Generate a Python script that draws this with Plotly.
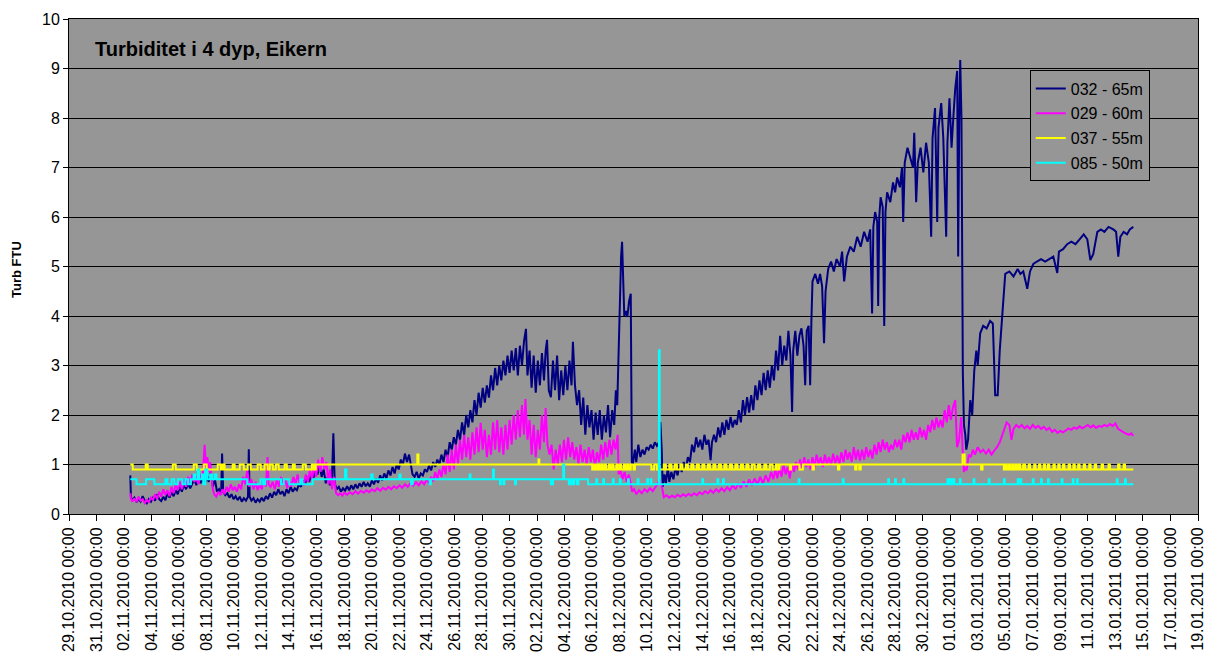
import pandas as pd
import plotly.graph_objects as go

# time in days since 29.10.2010 00:00, value in FTU
BASE_DATE = "2010-10-29"

navy_pts = [
    (4.45, 0.78), (4.5, 0.34), (4.6, 0.28), (4.75, 0.33), (4.9, 0.24), (5.05, 0.3), (5.2, 0.25), (5.35, 0.36),
    (5.5, 0.27), (5.65, 0.22), (5.8, 0.3), (5.95, 0.25), (6.1, 0.33), (6.25, 0.27), (6.4, 0.4), (6.55, 0.3),
    (6.7, 0.26), (6.85, 0.35), (7.0, 0.28), (7.15, 0.42), (7.3, 0.33), (7.45, 0.44), (7.6, 0.36), (7.75, 0.48),
    (7.9, 0.4), (8.05, 0.55), (8.2, 0.45), (8.35, 0.6), (8.5, 0.5), (8.65, 0.62), (8.8, 0.52), (8.95, 0.6),
    (9.1, 0.7), (9.25, 0.58), (9.4, 0.75), (9.55, 0.62), (9.7, 0.72), (9.85, 0.6), (10.0, 0.78), (10.15, 0.65),
    (10.3, 0.85), (10.45, 0.55), (10.6, 0.7), (10.75, 0.45), (10.9, 0.5), (11.05, 0.4), (11.12, 1.22), (11.2, 0.45),
    (11.35, 0.38), (11.5, 0.42), (11.65, 0.33), (11.8, 0.4), (11.95, 0.3), (12.1, 0.36), (12.25, 0.28), (12.4, 0.35),
    (12.55, 0.25), (12.7, 0.32), (12.85, 0.27), (13.0, 0.35), (13.06, 1.31), (13.12, 0.35), (13.25, 0.27), (13.4, 0.32),
    (13.55, 0.23), (13.7, 0.3), (13.85, 0.25), (14.0, 0.33), (14.15, 0.26), (14.3, 0.36), (14.45, 0.3), (14.6, 0.42),
    (14.75, 0.33), (14.9, 0.45), (15.05, 0.38), (15.2, 0.5), (15.35, 0.4), (15.5, 0.46), (15.65, 0.36), (15.8, 0.5),
    (15.95, 0.42), (16.1, 0.55), (16.25, 0.45), (16.4, 0.52), (16.55, 0.48), (16.7, 0.6), (16.85, 0.55), (17.0, 0.68),
    (17.15, 0.6), (17.3, 0.75), (17.45, 0.65), (17.6, 0.82), (17.75, 0.72), (17.9, 0.9), (18.05, 0.8), (18.2, 0.98),
    (18.35, 0.75), (18.5, 0.9), (18.65, 0.62), (18.8, 0.75), (18.95, 0.58), (19.1, 0.7), (19.2, 1.63), (19.3, 0.62),
    (19.45, 0.5), (19.6, 0.55), (19.75, 0.45), (19.9, 0.52), (20.05, 0.47), (20.2, 0.56), (20.35, 0.48), (20.5, 0.58),
    (20.65, 0.5), (20.8, 0.6), (20.95, 0.52), (21.1, 0.62), (21.25, 0.55), (21.4, 0.65), (21.55, 0.56), (21.7, 0.62),
    (21.85, 0.55), (22.0, 0.68), (22.15, 0.6), (22.3, 0.72), (22.45, 0.63), (22.6, 0.78), (22.75, 0.68), (22.9, 0.82),
    (23.05, 0.72), (23.2, 0.88), (23.35, 0.78), (23.5, 0.95), (23.65, 0.82), (23.8, 1.0), (23.95, 0.9), (24.1, 1.1),
    (24.25, 1.0), (24.4, 1.22), (24.55, 1.05), (24.7, 1.2), (24.85, 1.0), (24.95, 0.8), (25.1, 0.75), (25.25, 0.85),
    (25.4, 0.72), (25.55, 0.82), (25.7, 0.78), (25.85, 0.9), (26.0, 0.85), (26.15, 0.98), (26.3, 0.88), (26.45, 1.05),
    (26.6, 0.95), (26.75, 1.1), (26.9, 1.0), (27.05, 1.2), (27.2, 1.05), (27.35, 1.3), (27.5, 1.15), (27.65, 1.45),
    (27.8, 1.3), (27.95, 1.55), (28.1, 1.4), (28.25, 1.7), (28.4, 1.5), (28.55, 1.85), (28.7, 1.6), (28.85, 2.0),
    (29.0, 1.75), (29.15, 2.1), (29.3, 1.85), (29.45, 2.3), (29.6, 2.0), (29.75, 2.45), (29.9, 2.15), (30.05, 2.55),
    (30.2, 2.25), (30.35, 2.6), (30.5, 2.35), (30.65, 2.8), (30.8, 2.5), (30.95, 2.95), (31.1, 2.6), (31.25, 3.0),
    (31.4, 2.7), (31.55, 3.1), (31.7, 2.8), (31.85, 3.2), (32.0, 2.85), (32.15, 3.3), (32.3, 2.9), (32.45, 3.35),
    (32.6, 2.8), (32.75, 3.4), (32.9, 3.0), (33.05, 3.5), (33.19, 3.74), (33.3, 2.8), (33.45, 3.3), (33.6, 2.55),
    (33.75, 3.2), (33.9, 2.45), (34.05, 3.1), (34.2, 2.6), (34.35, 3.25), (34.5, 2.7), (34.62, 3.3), (34.72, 3.52),
    (34.85, 2.5), (35.0, 2.36), (35.15, 3.1), (35.3, 2.5), (35.45, 3.2), (35.6, 2.3), (35.75, 2.9), (35.9, 2.4),
    (36.05, 3.0), (36.2, 2.5), (36.35, 3.1), (36.5, 2.6), (36.6, 3.48), (36.75, 2.6), (36.9, 2.2), (37.05, 2.5),
    (37.2, 1.8), (37.35, 2.35), (37.5, 1.6), (37.65, 2.2), (37.8, 1.75), (37.95, 2.1), (38.1, 1.5), (38.25, 2.05),
    (38.4, 1.6), (38.55, 2.1), (38.7, 1.5), (38.85, 2.0), (39.0, 1.65), (39.15, 2.2), (39.3, 1.55), (39.45, 2.1),
    (39.6, 1.8), (39.72, 2.5), (39.82, 2.2), (39.9, 3.1), (40.0, 4.5), (40.1, 5.2), (40.17, 5.5), (40.25, 4.9),
    (40.33, 4.0), (40.45, 4.1), (40.55, 3.98), (40.68, 4.3), (40.8, 4.45), (40.88, 1.05), (40.95, 1.0), (41.1, 1.3),
    (41.2, 1.05), (41.35, 1.4), (41.5, 1.15), (41.65, 1.3), (41.8, 1.2), (41.95, 1.35), (42.1, 1.3), (42.25, 1.4),
    (42.4, 1.32), (42.55, 1.45), (42.7, 1.38), (42.85, 1.45), (42.95, 1.86), (43.05, 1.3), (43.12, 0.55), (43.25, 0.8),
    (43.35, 0.62), (43.5, 0.95), (43.6, 0.65), (43.75, 0.85), (43.9, 0.7), (44.05, 0.95), (44.2, 0.78), (44.35, 1.0),
    (44.5, 0.85), (44.65, 1.05), (44.8, 0.92), (44.95, 1.15), (45.1, 1.05), (45.25, 1.4), (45.4, 1.25), (45.55, 1.55),
    (45.7, 1.35), (45.85, 1.5), (46.0, 1.3), (46.15, 1.6), (46.3, 1.4), (46.45, 1.5), (46.6, 1.09), (46.7, 1.45),
    (46.85, 1.6), (47.0, 1.45), (47.15, 1.75), (47.3, 1.55), (47.45, 1.85), (47.6, 1.6), (47.75, 1.9), (47.9, 1.7),
    (48.05, 1.96), (48.2, 1.75), (48.35, 1.9), (48.5, 1.8), (48.65, 2.1), (48.8, 1.85), (48.95, 2.3), (49.1, 2.0),
    (49.25, 2.36), (49.4, 2.05), (49.55, 2.4), (49.7, 2.1), (49.85, 2.6), (50.0, 2.3), (50.15, 2.7), (50.3, 2.4),
    (50.45, 2.85), (50.6, 2.5), (50.75, 2.9), (50.9, 2.55), (51.05, 3.0), (51.2, 2.7), (51.35, 3.3), (51.5, 2.9),
    (51.65, 3.6), (51.8, 3.0), (51.95, 3.4), (52.1, 3.1), (52.25, 3.7), (52.4, 3.2), (52.52, 2.06), (52.6, 3.3),
    (52.75, 3.7), (52.9, 3.2), (53.05, 3.6), (53.2, 3.75), (53.35, 3.4), (53.47, 2.6), (53.58, 3.7), (53.72, 3.8),
    (53.83, 2.6), (53.92, 3.9), (54.0, 4.7), (54.2, 4.85), (54.4, 4.65), (54.55, 4.85), (54.7, 4.6), (54.84, 3.45),
    (54.95, 4.5), (55.14, 4.95), (55.35, 5.1), (55.55, 4.9), (55.75, 5.15), (56.0, 5.0), (56.15, 5.3), (56.3, 4.7),
    (56.5, 5.2), (56.75, 5.4), (57.0, 5.3), (57.25, 5.6), (57.5, 5.4), (57.75, 5.7), (58.0, 5.5), (58.19, 5.75),
    (58.33, 4.05), (58.42, 5.8), (58.55, 6.1), (58.7, 5.9), (58.77, 4.2), (58.85, 6.0), (58.95, 6.4), (59.1, 6.2),
    (59.21, 3.8), (59.3, 6.1), (59.42, 6.5), (59.65, 6.3), (59.85, 6.7), (60.0, 6.5), (60.15, 6.8), (60.35, 6.6),
    (60.5, 7.0), (60.59, 5.9), (60.7, 7.1), (60.9, 7.4), (61.1, 7.2), (61.3, 7.0), (61.39, 7.7), (61.53, 6.3),
    (61.65, 7.1), (61.85, 7.4), (62.05, 6.9), (62.25, 7.5), (62.45, 7.1), (62.62, 5.6), (62.72, 7.6), (62.9, 8.2),
    (63.06, 5.9), (63.15, 7.8), (63.35, 8.3), (63.5, 7.6), (63.71, 5.6), (63.8, 7.5), (63.95, 8.4), (64.1, 7.4),
    (64.25, 8.1), (64.37, 8.6), (64.51, 8.95), (64.58, 5.2), (64.66, 8.0), (64.73, 9.17), (64.82, 8.0), (64.92, 2.85),
    (65.0, 1.8), (65.1, 1.6), (65.17, 1.3), (65.3, 1.5), (65.46, 2.3), (65.6, 2.0), (65.75, 2.9), (65.9, 3.3),
    (66.0, 3.0), (66.18, 3.65), (66.4, 3.8), (66.65, 3.75), (66.9, 3.9), (67.1, 3.85), (67.27, 2.4), (67.45, 2.4),
    (67.6, 3.3), (67.8, 4.05), (68.0, 4.85), (68.3, 4.9), (68.6, 4.8), (68.9, 4.95), (69.1, 4.85), (69.31, 4.9),
    (69.6, 4.55), (69.8, 4.9), (70.04, 5.05), (70.3, 5.1), (70.6, 5.15), (70.9, 5.1), (71.2, 5.15), (71.49, 5.2),
    (71.78, 4.87), (71.9, 5.3), (72.2, 5.35), (72.5, 5.45), (72.8, 5.5), (73.1, 5.45), (73.4, 5.55), (73.7, 5.65),
    (73.96, 5.55), (74.18, 5.13), (74.39, 5.25), (74.69, 5.7), (74.95, 5.75), (75.2, 5.7), (75.5, 5.8), (75.85, 5.75),
    (76.05, 5.7), (76.21, 5.2), (76.36, 5.6), (76.6, 5.7), (76.85, 5.65), (77.05, 5.75), (77.3, 5.8),
]

magenta_pts = [
    (4.45, 0.42), (4.5, 0.3), (4.6, 0.25), (4.75, 0.32), (4.9, 0.24), (5.05, 0.35), (5.2, 0.27), (5.35, 0.3),
    (5.5, 0.22), (5.65, 0.28), (5.8, 0.24), (5.95, 0.33), (6.1, 0.28), (6.25, 0.4), (6.4, 0.3), (6.55, 0.45),
    (6.7, 0.35), (6.85, 0.5), (7.0, 0.38), (7.15, 0.48), (7.3, 0.36), (7.45, 0.55), (7.6, 0.42), (7.75, 0.6),
    (7.9, 0.48), (8.05, 0.65), (8.2, 0.5), (8.35, 0.7), (8.5, 0.55), (8.65, 0.75), (8.8, 0.6), (8.95, 0.8),
    (9.1, 0.65), (9.25, 0.75), (9.4, 0.6), (9.55, 0.8), (9.7, 0.7), (9.85, 1.4), (9.95, 0.95), (10.05, 1.15),
    (10.15, 0.85), (10.25, 1.05), (10.35, 0.75), (10.45, 0.5), (10.55, 0.4), (10.7, 0.35), (10.85, 0.45), (11.0, 0.38),
    (11.15, 0.5), (11.3, 0.4), (11.45, 0.55), (11.6, 0.45), (11.75, 0.6), (11.9, 0.48), (12.05, 0.55), (12.2, 0.45),
    (12.35, 0.6), (12.5, 0.5), (12.65, 0.75), (12.8, 0.6), (12.95, 0.9), (13.1, 0.55), (13.25, 0.7), (13.4, 0.5),
    (13.55, 0.65), (13.7, 0.48), (13.85, 0.6), (14.0, 0.5), (14.15, 0.7), (14.3, 0.55), (14.42, 1.15), (14.5, 0.6),
    (14.65, 0.55), (14.8, 0.65), (14.95, 0.5), (15.1, 0.7), (15.25, 0.55), (15.4, 0.75), (15.55, 0.58), (15.7, 0.7),
    (15.85, 0.52), (16.0, 0.68), (16.15, 0.55), (16.3, 0.75), (16.45, 0.6), (16.6, 0.8), (16.75, 0.62), (16.9, 0.72),
    (17.05, 0.58), (17.2, 0.8), (17.35, 0.65), (17.5, 0.9), (17.65, 0.7), (17.8, 1.0), (17.95, 0.75), (18.1, 1.1),
    (18.25, 0.85), (18.4, 1.15), (18.55, 0.9), (18.7, 1.05), (18.85, 0.6), (18.95, 0.9), (19.1, 0.5), (19.25, 0.75),
    (19.4, 0.42), (19.55, 0.38), (19.7, 0.42), (19.85, 0.37), (20.0, 0.43), (20.2, 0.39), (20.4, 0.44), (20.6, 0.4),
    (20.8, 0.46), (21.0, 0.41), (21.2, 0.47), (21.4, 0.43), (21.6, 0.48), (21.8, 0.44), (22.0, 0.5), (22.2, 0.46),
    (22.4, 0.52), (22.6, 0.47), (22.8, 0.53), (23.0, 0.49), (23.2, 0.55), (23.4, 0.5), (23.6, 0.56), (23.8, 0.52),
    (24.0, 0.58), (24.2, 0.53), (24.4, 0.6), (24.6, 0.55), (24.8, 0.62), (25.0, 0.57), (25.2, 0.64), (25.4, 0.58),
    (25.6, 0.66), (25.8, 0.6), (26.0, 0.7), (26.15, 0.62), (26.3, 0.75), (26.45, 0.66), (26.6, 0.85), (26.75, 0.7),
    (26.9, 0.9), (27.05, 0.75), (27.2, 1.0), (27.35, 0.8), (27.5, 1.2), (27.65, 0.85), (27.8, 1.3), (27.95, 0.9),
    (28.1, 1.4), (28.25, 1.0), (28.4, 1.5), (28.55, 1.1), (28.7, 1.6), (28.85, 1.15), (29.0, 1.55), (29.15, 1.1),
    (29.3, 1.65), (29.45, 1.2), (29.6, 1.75), (29.75, 1.25), (29.9, 1.84), (30.05, 1.3), (30.2, 1.7), (30.35, 1.15),
    (30.5, 1.6), (30.65, 1.2), (30.8, 1.85), (30.95, 1.3), (31.1, 1.9), (31.25, 1.25), (31.4, 1.75), (31.55, 1.2),
    (31.7, 1.8), (31.85, 1.3), (32.0, 1.9), (32.15, 1.4), (32.3, 2.0), (32.45, 1.5), (32.6, 2.1), (32.75, 1.55),
    (32.9, 2.2), (33.05, 1.6), (33.15, 2.32), (33.3, 1.5), (33.45, 1.9), (33.6, 1.2), (33.75, 1.8), (33.9, 1.15),
    (34.05, 1.7), (34.2, 1.3), (34.35, 2.0), (34.5, 1.45), (34.62, 2.14), (34.75, 1.4), (34.9, 1.2), (35.05, 1.4),
    (35.2, 0.9), (35.35, 1.3), (35.5, 1.0), (35.65, 1.4), (35.8, 1.05), (35.95, 1.5), (36.1, 1.1), (36.25, 1.55),
    (36.4, 1.15), (36.55, 1.45), (36.7, 1.1), (36.85, 1.35), (37.0, 1.0), (37.15, 1.4), (37.3, 1.05), (37.45, 1.3),
    (37.6, 1.0), (37.75, 1.35), (37.9, 1.05), (38.05, 1.3), (38.2, 0.95), (38.35, 1.25), (38.5, 1.05), (38.65, 1.4),
    (38.8, 1.1), (38.95, 1.45), (39.1, 1.15), (39.25, 1.5), (39.4, 1.2), (39.55, 1.5), (39.7, 1.3), (39.85, 1.6),
    (39.92, 0.8), (40.05, 0.9), (40.2, 0.7), (40.35, 0.85), (40.5, 0.65), (40.65, 0.8), (40.8, 0.62), (40.9, 0.45),
    (41.05, 0.5), (41.2, 0.4), (41.4, 0.48), (41.6, 0.42), (41.8, 0.5), (42.0, 0.45), (42.2, 0.52), (42.4, 0.46),
    (42.6, 0.55), (42.75, 0.6), (42.9, 0.7), (43.0, 0.6), (43.1, 0.5), (43.2, 0.34), (43.4, 0.38), (43.6, 0.33),
    (43.8, 0.37), (44.0, 0.34), (44.2, 0.39), (44.4, 0.35), (44.6, 0.4), (44.8, 0.36), (45.0, 0.41), (45.2, 0.37),
    (45.4, 0.42), (45.6, 0.38), (45.8, 0.44), (46.0, 0.4), (46.2, 0.46), (46.4, 0.42), (46.6, 0.48), (46.8, 0.43),
    (47.0, 0.5), (47.2, 0.45), (47.4, 0.52), (47.6, 0.46), (47.8, 0.54), (48.0, 0.48), (48.2, 0.58), (48.4, 0.5),
    (48.6, 0.62), (48.8, 0.53), (49.0, 0.66), (49.2, 0.55), (49.4, 0.7), (49.6, 0.58), (49.8, 0.72), (50.0, 0.6),
    (50.2, 0.75), (50.4, 0.62), (50.6, 0.78), (50.8, 0.65), (51.0, 0.85), (51.15, 0.7), (51.3, 0.9), (51.45, 0.72),
    (51.6, 0.95), (51.75, 0.75), (51.9, 1.0), (52.05, 0.8), (52.2, 0.95), (52.35, 0.72), (52.5, 1.0), (52.65, 0.85),
    (52.8, 1.05), (52.95, 0.9), (53.1, 1.1), (53.25, 0.92), (53.4, 1.15), (53.55, 0.95), (53.7, 1.1), (53.85, 0.9),
    (54.0, 1.15), (54.15, 0.95), (54.3, 1.2), (54.45, 1.0), (54.6, 1.15), (54.75, 0.95), (54.9, 1.2), (55.05, 1.0),
    (55.2, 1.15), (55.35, 0.98), (55.5, 1.22), (55.65, 1.02), (55.8, 1.18), (55.95, 1.0), (56.1, 1.25), (56.25, 1.05),
    (56.4, 1.3), (56.55, 1.1), (56.7, 1.25), (56.85, 1.05), (57.0, 1.35), (57.15, 1.1), (57.3, 1.3), (57.45, 1.08),
    (57.6, 1.3), (57.75, 1.1), (57.9, 1.35), (58.05, 1.15), (58.2, 1.3), (58.35, 1.12), (58.5, 1.4), (58.65, 1.2),
    (58.8, 1.45), (58.95, 1.25), (59.1, 1.5), (59.25, 1.3), (59.4, 1.45), (59.55, 1.25), (59.7, 1.4), (59.85, 1.3),
    (60.0, 1.5), (60.15, 1.35), (60.3, 1.5), (60.45, 1.3), (60.6, 1.6), (60.75, 1.45), (60.9, 1.65), (61.05, 1.45),
    (61.2, 1.7), (61.35, 1.5), (61.5, 1.65), (61.65, 1.5), (61.8, 1.75), (61.95, 1.55), (62.1, 1.7), (62.25, 1.5),
    (62.4, 1.8), (62.55, 1.65), (62.7, 1.9), (62.85, 1.7), (63.0, 1.95), (63.15, 1.75), (63.3, 1.9), (63.45, 1.75),
    (63.6, 2.1), (63.75, 1.85), (63.9, 2.2), (64.05, 1.9), (64.2, 2.15), (64.37, 2.3), (64.5, 1.35), (64.65, 1.5),
    (64.8, 1.96), (64.92, 1.2), (65.0, 0.85), (65.1, 0.95), (65.2, 0.88), (65.35, 1.2), (65.5, 1.15), (65.65, 1.3),
    (65.8, 1.2), (66.0, 1.35), (66.2, 1.25), (66.4, 1.3), (66.6, 1.22), (66.8, 1.3), (67.0, 1.2), (67.2, 1.28),
    (67.4, 1.35), (67.6, 1.45), (67.8, 1.6), (67.95, 1.75), (68.1, 1.85), (68.3, 1.8), (68.45, 1.5), (68.6, 1.72),
    (68.8, 1.8), (69.0, 1.75), (69.2, 1.8), (69.4, 1.73), (69.6, 1.78), (69.8, 1.72), (70.0, 1.8), (70.2, 1.74),
    (70.4, 1.78), (70.6, 1.72), (70.8, 1.76), (71.0, 1.7), (71.2, 1.74), (71.4, 1.66), (71.6, 1.7), (71.8, 1.64),
    (72.0, 1.68), (72.2, 1.65), (72.4, 1.7), (72.6, 1.73), (72.8, 1.7), (73.0, 1.75), (73.2, 1.72), (73.4, 1.77),
    (73.6, 1.73), (73.8, 1.76), (74.0, 1.8), (74.2, 1.75), (74.4, 1.79), (74.6, 1.74), (74.8, 1.78), (75.0, 1.76),
    (75.2, 1.8), (75.4, 1.77), (75.6, 1.82), (75.8, 1.78), (76.0, 1.83), (76.2, 1.72), (76.4, 1.68), (76.6, 1.65),
    (76.8, 1.62), (77.0, 1.6), (77.15, 1.63), (77.3, 1.58),
]

# step series (value holds until next time)
yellow_pts = [
    (4.45, 1.0), (4.63, 0.9), (5.57, 1.0), (5.72, 0.9), (7.54, 1.0), (7.75, 0.9), (9.06, 1.0), (9.28, 0.9),
    (9.79, 1.0), (10.0, 0.9), (10.8, 1.0), (11.02, 0.9), (11.16, 1.0), (11.3, 0.9), (11.89, 1.0), (12.03, 0.9),
    (12.4, 1.0), (12.69, 0.9), (12.98, 1.0), (13.2, 0.9), (13.7, 1.0), (13.93, 0.9), (14.2, 1.0), (14.42, 0.9),
    (14.58, 1.0), (14.8, 0.9), (15.02, 1.0), (15.23, 0.9), (15.66, 1.0), (15.82, 0.9), (16.26, 1.0), (16.4, 0.9),
    (16.98, 1.0), (17.2, 0.9), (17.64, 1.0), (17.79, 0.9), (17.93, 1.0), (25.3, 1.2), (25.38, 1.0), (34.1, 1.1),
    (34.16, 1.0), (38.0, 0.9), (38.15, 1.0), (38.25, 0.9), (38.4, 1.0), (38.5, 0.9), (38.65, 1.0), (38.75, 0.9),
    (38.9, 1.0), (39.0, 0.9), (39.2, 1.0), (39.3, 0.9), (39.45, 1.0), (39.55, 0.9), (39.75, 1.0), (39.85, 0.9),
    (40.0, 1.0), (40.1, 0.9), (40.3, 1.0), (40.4, 0.9), (40.55, 1.0), (40.65, 0.9), (40.8, 1.0), (41.0, 0.9),
    (41.1, 1.0), (42.3, 0.9), (42.5, 1.0), (42.7, 0.9), (43.2, 1.0), (43.35, 0.9), (43.6, 1.0), (43.75, 0.9),
    (44.0, 1.0), (44.15, 0.9), (44.4, 1.0), (44.55, 0.9), (44.8, 1.0), (44.95, 0.9), (45.2, 1.0), (45.35, 0.9),
    (45.6, 1.0), (45.75, 0.9), (46.0, 1.0), (46.15, 0.9), (46.4, 1.0), (46.55, 0.9), (46.8, 1.0), (46.95, 0.9),
    (47.2, 1.0), (47.35, 0.9), (47.6, 1.0), (47.75, 0.9), (48.0, 1.0), (48.15, 0.9), (48.4, 1.0), (48.55, 0.9),
    (48.8, 1.0), (48.95, 0.9), (49.2, 1.0), (49.35, 0.9), (49.6, 1.0), (49.8, 0.9), (50.05, 1.0), (50.2, 0.9),
    (50.5, 1.0), (50.65, 0.9), (50.9, 1.0), (51.1, 0.9), (51.35, 1.0), (51.5, 0.9), (51.6, 1.0), (52.35, 0.9),
    (52.45, 1.0), (53.05, 0.9), (53.3, 1.0), (54.0, 0.9), (54.1, 1.0), (55.85, 0.9), (55.95, 1.0), (57.1, 0.9),
    (57.2, 1.0), (57.4, 0.9), (57.5, 1.0), (64.9, 1.2), (65.05, 1.0), (66.25, 0.9), (66.35, 1.0), (67.9, 0.9),
    (68.0, 1.0), (68.1, 0.9), (68.25, 1.0), (68.35, 0.9), (68.5, 1.0), (68.6, 0.9), (68.75, 1.0), (68.85, 0.9),
    (69.0, 1.0), (69.1, 0.9), (69.3, 1.0), (69.45, 0.9), (69.7, 1.0), (69.8, 0.9), (70.1, 1.0), (70.2, 0.9),
    (70.45, 1.0), (70.55, 0.9), (70.8, 1.0), (70.9, 0.9), (71.1, 1.0), (71.2, 0.9), (71.5, 1.0), (71.6, 0.9),
    (71.85, 1.0), (71.95, 0.9), (72.2, 1.0), (72.3, 0.9), (72.6, 1.0), (72.7, 0.9), (72.95, 1.0), (73.05, 0.9),
    (73.3, 1.0), (73.4, 0.9), (73.7, 1.0), (73.8, 0.9), (74.1, 1.0), (74.2, 0.9), (74.5, 1.0), (74.6, 0.9),
    (75.0, 1.0), (75.1, 0.9), (75.5, 1.0), (75.6, 0.9), (76.2, 1.0), (76.3, 0.9), (76.6, 1.0), (76.7, 0.9),
    (77.3, 0.9),
]

cyan_pts = [
    (4.45, 0.7), (4.9, 0.6), (5.6, 0.7), (6.2, 0.6), (7.0, 0.7), (7.15, 0.6), (7.45, 0.7), (7.65, 0.6),
    (7.9, 0.7), (8.25, 0.6), (8.45, 0.7), (8.65, 0.6), (8.85, 0.7), (9.05, 0.8), (9.15, 0.7), (9.35, 0.9),
    (9.45, 0.7), (9.65, 0.8), (9.75, 0.6), (9.9, 0.9), (10.05, 0.7), (10.25, 0.8), (10.4, 0.7), (10.6, 0.8),
    (10.7, 0.7), (12.95, 0.6), (13.9, 0.7), (14.1, 0.6), (14.25, 0.7), (15.4, 0.6), (15.6, 0.7), (16.0, 0.6),
    (16.8, 0.7), (16.95, 0.6), (17.7, 0.7), (20.05, 0.9), (20.15, 0.7), (21.95, 0.8), (22.05, 0.7), (24.0, 0.8),
    (24.08, 0.7), (24.85, 0.6), (24.95, 0.7), (26.2, 0.6), (26.28, 0.7), (29.1, 0.8), (29.16, 0.7), (30.8, 0.9),
    (30.86, 0.7), (31.3, 0.6), (31.36, 0.7), (31.55, 0.6), (31.62, 0.7), (32.4, 0.6), (32.46, 0.7), (35.0, 0.6),
    (35.15, 0.7), (35.9, 1.0), (35.96, 0.7), (36.3, 0.6), (36.45, 0.7), (36.6, 0.6), (36.7, 0.7), (36.9, 0.6),
    (37.0, 0.7), (37.7, 0.6), (38.3, 0.7), (38.36, 0.6), (38.8, 0.7), (38.86, 0.6), (39.5, 0.7), (39.56, 0.6),
    (40.0, 0.7), (40.06, 0.6), (40.6, 0.7), (40.66, 0.6), (41.3, 0.7), (41.36, 0.6), (42.0, 0.7), (42.06, 0.6),
    (42.25, 0.7), (42.3, 0.6), (42.85, 3.31), (42.9, 0.6), (46.0, 0.7), (46.06, 0.6), (47.1, 0.7), (47.16, 0.6),
    (47.5, 0.7), (47.56, 0.6), (53.0, 0.7), (53.06, 0.6), (56.2, 0.7), (56.26, 0.6), (59.5, 0.7), (59.56, 0.6),
    (60.0, 0.7), (60.06, 0.6), (60.6, 0.7), (60.66, 0.6), (63.8, 0.7), (63.86, 0.6), (63.95, 0.7), (64.0, 0.6),
    (64.1, 0.7), (64.16, 0.6), (64.25, 0.7), (64.3, 0.6), (64.7, 0.7), (64.76, 0.6), (65.7, 0.7), (65.76, 0.6),
    (66.8, 0.7), (66.86, 0.6), (67.9, 0.7), (67.96, 0.6), (68.9, 0.7), (68.96, 0.6), (69.1, 0.7), (69.16, 0.6),
    (70.0, 0.7), (70.06, 0.6), (70.6, 0.7), (70.66, 0.6), (71.1, 0.7), (71.16, 0.6), (72.1, 0.7), (72.16, 0.6),
    (72.9, 0.7), (72.96, 0.6), (73.2, 0.7), (73.26, 0.6), (76.1, 0.7), (76.16, 0.6), (76.7, 0.7), (76.76, 0.6),
    (77.3, 0.6),
]

series_names = ["032 - 65m", "029 - 60m", "037 - 55m", "085 - 50m"]
series_colors = ["#000080", "#FF00FF", "#FFFF00", "#00FFFF"]
series_shapes = ["linear", "linear", "hv", "hv"]
series_data = [navy_pts, magenta_pts, yellow_pts, cyan_pts]

title_text = "Turbiditet i 4 dyp, Eikern"
y_title = "Turb FTU"
x_start, x_end = "2010-10-29", "2011-01-19"

base = pd.Timestamp(BASE_DATE)


def to_xy(pts):
    xs = [base + pd.Timedelta(days=t) for t, _ in pts]
    ys = [v for _, v in pts]
    return xs, ys


FONT = "Arial, Liberation Sans, sans-serif"
fig = go.Figure()
for i, (name, col, shp, pts) in enumerate(zip(series_names, series_colors, series_shapes, series_data)):
    xs, ys = to_xy(pts)
    fig.add_trace(go.Scatter(x=xs, y=ys, mode="lines", name=name, legendgroup=f"g{i}",
                             line=dict(color=col, width=2, shape=shp)))

fig.update_layout(
    width=1206, height=657,
    margin=dict(l=69, r=8, t=19, b=143),
    paper_bgcolor="white", plot_bgcolor="#969696",
    font=dict(family=FONT, size=16, color="black"),
    showlegend=True,
    legend=dict(x=0.851, y=0.896, xanchor="left", yanchor="top",
                bgcolor="#969696", bordercolor="black", borderwidth=1,
                font=dict(family=FONT, size=16, color="black"),
                traceorder="grouped", tracegroupgap=1),
    annotations=[
        dict(text=f"<b>{title_text}</b>", xref="paper", yref="paper", x=0.021, y=0.939,
             xanchor="left", yanchor="middle", showarrow=False,
             font=dict(family=FONT, size=20, color="black")),
        dict(text=f"<b>{y_title}</b>", xref="paper", yref="paper", x=-0.046, y=0.493,
             xanchor="center", yanchor="middle", textangle=-90, showarrow=False,
             font=dict(family=FONT, size=13, color="black")),
    ],
)

fig.update_xaxes(
    type="date", range=[x_start, x_end], automargin=False,
    tick0=x_start, dtick=2 * 86400000, tickformat="%d.%m.%Y %H:%M",
    tickangle=-90, ticks="outside", ticklen=6, tickcolor="black",
    ticklabeloverflow="allow",
    showgrid=False, showline=True, linecolor="black", linewidth=1, mirror=True,
    tickfont=dict(family=FONT, size=16, color="black"),
)
fig.update_yaxes(
    range=[0, 10], dtick=1, tick0=0, automargin=False,
    ticks="outside", ticklen=5, tickcolor="black",
    showgrid=True, gridcolor="black", gridwidth=1,
    zeroline=False, showline=True, linecolor="black", linewidth=1, mirror=True,
    tickfont=dict(family=FONT, size=16, color="black"),
)

fig.write_html(
    "out.html",
    config={"displayModeBar": False},
    post_script="document.body.style.margin='0px';document.body.style.padding='0px';document.body.style.overflow='hidden';",
)
